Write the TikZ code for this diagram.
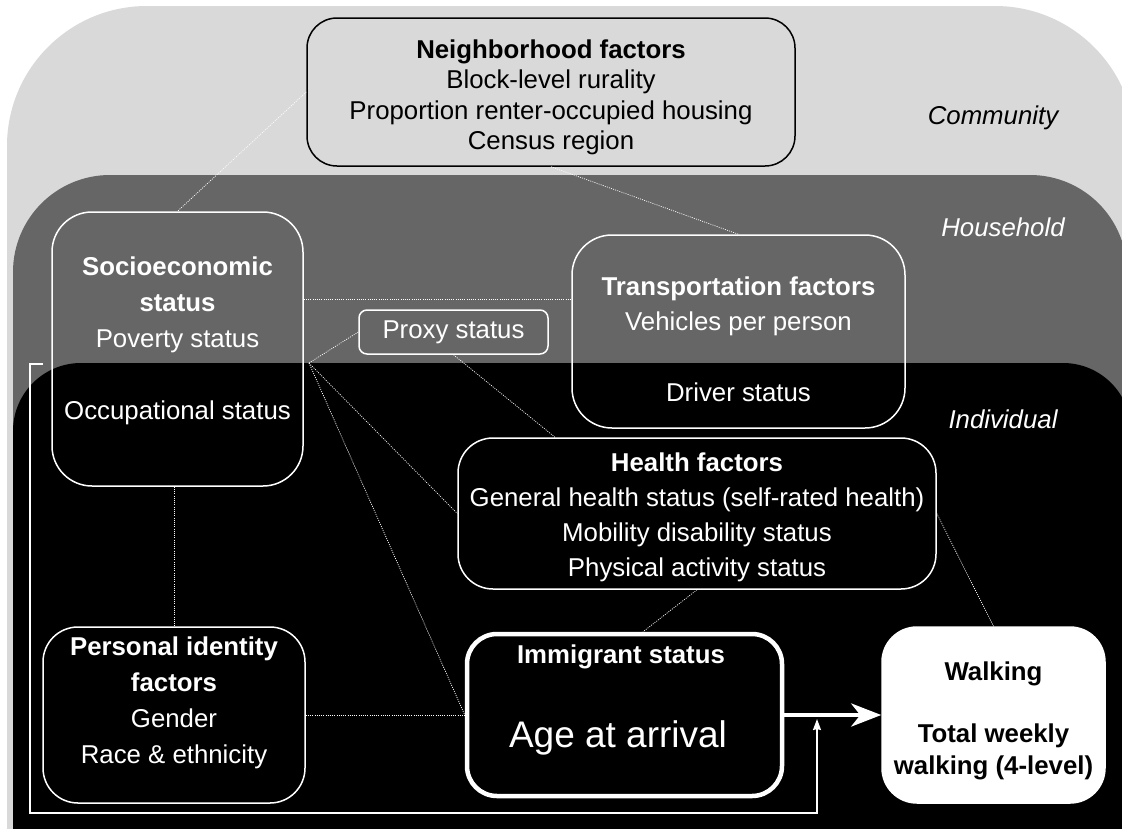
\documentclass[tikz,border=0pt]{standalone}
\usepackage{fontspec}
\setmainfont{Liberation Sans}
\usetikzlibrary{arrows.meta,calc}
\definecolor{commfill}{HTML}{D9D9D9}
\definecolor{housefill}{HTML}{666666}
\begin{document}
\begin{tikzpicture}[x=1pt,y=-1pt,
  box/.style={draw=white, line width=1.5pt, rounded corners=#1, inner sep=0pt},
  conn/.style={white, line width=0.7pt, dash pattern=on 1pt off 1.2pt},
  tx/.style={anchor=north, inner sep=0pt, align=center, text=white,
             font=\fontsize{25.8pt}{#1pt}\selectfont},
  one/.style={anchor=base, inner sep=0pt, text=white,
              font=\fontsize{25.8pt}{30pt}\selectfont},
  lvl/.style={anchor=base, inner sep=0pt,
              font=\fontsize{25.8pt}{30pt}\selectfont\itshape}]
\useasboundingbox (0,0) rectangle (1122,828);
\clip (0,0) rectangle (1122,828);
\fill[white] (0,0) rectangle (1122,828);

% nested levels: community, household, individual
\fill[commfill, rounded corners=140pt] (7,1000) -- (7,6) -- (1135,6) -- (1135,1000) -- cycle;
\fill[housefill, rounded corners=97pt] (13,1000) -- (13,175) -- (1127,175) -- (1127,1000) -- cycle;
\fill[black, rounded corners=68pt] (13,1000) -- (13,363) -- (1131,363) -- (1131,1000) -- cycle;

\node[lvl, text=black] (lcomm) at (993,124) {Community};
\node[lvl, text=white] (lhouse) at (1003,236) {Household};
\node[lvl, text=white] (lind) at (1003,428) {Individual};

% factor boxes
\node[box=30pt, draw=black, fill=commfill, minimum width=488pt, minimum height=148pt] (nb) at (551,92) {};
\node[box=40pt, minimum width=251pt, minimum height=274pt] (socio) at (177.5,349) {};
\node[box=8pt, minimum width=189pt, minimum height=44pt] (proxy) at (453.5,332) {};
\node[box=40pt, minimum width=333pt, minimum height=193pt] (tr) at (738.5,331.5) {};
\node[box=35pt, fill=black, minimum width=478pt, minimum height=151pt] (health) at (697,513.5) {};
\node[box=35pt, fill=black, minimum width=262pt, minimum height=176pt] (pers) at (174,715) {};
\node[box=30pt, fill=black, line width=4.5pt, minimum width=315pt, minimum height=162pt] (imm) at (624.5,715) {};
\node[box=35pt, fill=white, minimum width=223pt, minimum height=176pt] (walk) at (993.5,715) {};

% box texts
\node[tx=30.5, text=black] (nb-t) at (551,36.7)
  {\strut\textbf{Neighborhood factors}\\\strut Block-level rurality\\\strut Proportion renter-occupied housing\\\strut Census region};
\node[tx=36] (socio-t) at (177.5,249.8)
  {\strut\textbf{Socioeconomic}\\\strut\textbf{status}\\\strut Poverty status\\\strut\\\strut Occupational status};
\node[one] (proxy-t) at (453.5,338.5) {Proxy status};
\node[tx=35.5] (tr-t) at (738.5,270.2)
  {\strut\textbf{Transportation factors}\\\strut Vehicles per person\\\strut\\\strut Driver status};
\node[tx=35] (health-t) at (697,446.5)
  {\strut\textbf{Health factors}\\\strut General health status (self-rated health)\\\strut Mobility disability status\\\strut Physical activity status};
\node[tx=36] (pers-t) at (174,629.8)
  {\strut\textbf{Personal identity}\\\strut\textbf{factors}\\\strut Gender\\\strut Race \& ethnicity};
\node[one, font=\fontsize{25.8pt}{30pt}\selectfont\bfseries] (imm-t) at (621,663) {Immigrant status};
\node[one, font=\fontsize{37pt}{44pt}\selectfont] (imm-a) at (618,747) {Age at arrival};
\node[tx=31.3, text=black, font=\fontsize{25.8pt}{31.3pt}\selectfont\bfseries] (walk-t) at (993.5,658.1)
  {\strut Walking\\\strut\\\strut Total weekly\\\strut walking (4-level)};

% associations between factors
\coordinate (hub) at (309,363);
\draw[conn] (nb.west) -- (socio.north);
\draw[conn] (nb.south) -- (tr.north);
\draw[conn] ([yshift=50pt]socio.east) -- ([yshift=32.5pt]tr.west);
\draw[conn] (hub) -- (proxy.west);
\draw[conn] (hub) -- (health.west);
\draw[conn] (hub) -- (imm.west);
\draw[conn] (proxy.south) -- ([xshift=-142pt]health.north);
\draw[conn] (pers.north |- socio.south) -- (pers.north);
\draw[conn] (pers.east) -- (imm.west);
\draw[conn] (health.south) -- ([xshift=18.5pt]imm.north);
\draw[conn] (health.east) -- (walk.north);

% main effect and moderation
\draw[white, line width=4.5pt, -{Stealth[length=30pt, width=23pt, inset=9pt]}] (imm.east) -- (walk.west);
\coordinate (bk) at (43,364);
\coordinate (mod) at (817,719);
\draw[white, line width=1.5pt, -{Stealth[length=11pt, width=8pt, inset=1pt]}]
  (bk) -- ++(-13,0) |- ([yshift=-94pt]mod) -- (mod);
\end{tikzpicture}
\end{document}
